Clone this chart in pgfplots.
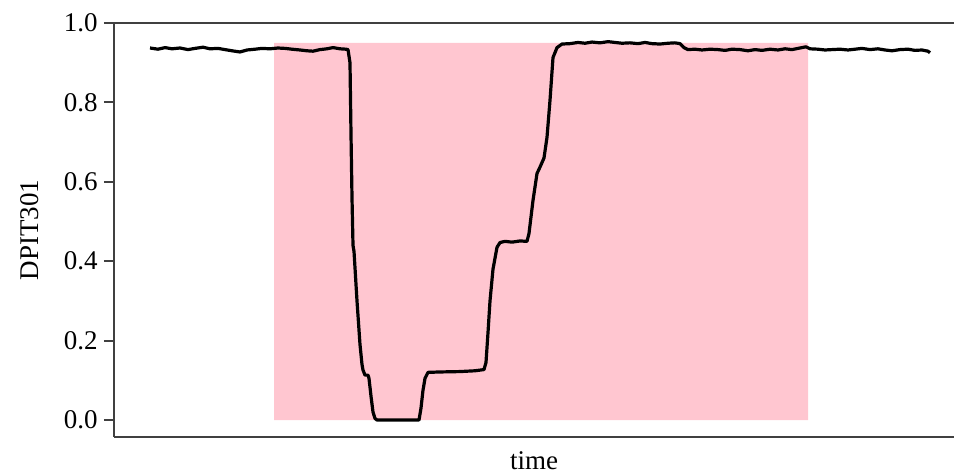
\documentclass[border=0pt]{standalone}
\usepackage{fontspec}
\setmainfont{Liberation Serif}
\usepackage{pgfplots}
\pgfplotsset{compat=1.18}
\definecolor{pinkc}{HTML}{FFC6D0}
\begin{document}
\begin{tikzpicture}
\begin{axis}[
  scale only axis,
  width=420pt, height=207pt,
  xmin=114, xmax=954,
  ymin=-0.0428, ymax=1.0,
  axis x line*=box, axis y line*=left,
  axis line style={black!75, line width=1pt},
  xtick=\empty,
  ytick={0,0.2,0.4,0.6,0.8,1.0},
  yticklabel style={/pgf/number format/fixed, /pgf/number format/precision=1, /pgf/number format/fixed zerofill, font=\fontsize{13.5}{15}\selectfont, inner sep=0pt, xshift=-3pt},
  /pgf/number format/assume math mode=true,
  tick align=outside,
  major tick length=5pt,
  tick style={black!75, line width=1pt},
  every axis y label/.style={at={(axis description cs:0,0.5)}, xshift=-42pt, rotate=90, anchor=center, font=\fontsize{13.5}{15}\selectfont},
  every axis x label/.style={at={(axis description cs:0.5,0)}, anchor=north, yshift=-7pt, inner sep=0pt, font=\fontsize{13.5}{15}\selectfont},
  ylabel={DPIT301},
  xlabel={time},
  clip=false,
]
\addplot[fill=pinkc, draw=none] coordinates {(274,0) (274,0.95) (808,0.95) (808,0)} \closedcycle;
\addplot[black, line width=1.6pt, line join=round] coordinates {
(150,0.937) (158,0.934) (165,0.938) (172,0.935) (180,0.937) (188,0.933) (195,0.936) (203,0.939) (210,0.935) (218,0.936) (225,0.933) (232,0.930) (240,0.927) (247,0.932) (255,0.934) (262,0.936) (270,0.935) (278,0.937) (285,0.936) (292,0.934) (300,0.932) (307,0.930) (313,0.929) (320,0.933) (327,0.935) (333,0.938) (340,0.935) (346,0.934) (348,0.933)
(350,0.90) (351,0.72) (352,0.56) (353,0.44) (354,0.425) (357,0.30) (360,0.19) (362,0.14) (363,0.126) (365,0.113) (368,0.113) (369,0.105) (371,0.06) (373,0.02) (375,0.004) (377,0.0) (400,0.0) (419,0.0)
(421,0.03) (423,0.075) (425,0.105) (428,0.12) (440,0.121) (460,0.122) (475,0.124) (484,0.127) (486,0.145) (488,0.22) (490,0.30) (493,0.38) (497,0.435) (500,0.447) (505,0.450) (512,0.448) (520,0.451) (527,0.450)
(529,0.47) (533,0.553) (537,0.621) (540,0.637) (544,0.66) (547,0.712) (550,0.805) (553,0.913) (557,0.938) (562,0.947)
(570,0.948) (578,0.951) (585,0.949) (592,0.952) (600,0.950) (608,0.953) (615,0.951) (622,0.949) (630,0.950) (638,0.948) (645,0.951) (652,0.948) (660,0.947) (668,0.949) (675,0.950) (680,0.948) (684,0.938) (688,0.933) (695,0.934) (702,0.932) (710,0.934) (718,0.933) (725,0.931) (732,0.934) (740,0.933) (748,0.930) (755,0.933) (762,0.931) (770,0.934) (778,0.932) (785,0.935) (792,0.933) (800,0.937) (806,0.940) (810,0.935) (818,0.934) (825,0.932) (832,0.933) (840,0.934) (848,0.932) (855,0.934) (862,0.936) (870,0.933) (878,0.935) (885,0.932) (892,0.930) (900,0.933) (908,0.934) (915,0.931) (922,0.932) (928,0.929) (930,0.925)
};
\coordinate (BL) at (rel axis cs:0,0);
\coordinate (TR) at (rel axis cs:1,1);
\end{axis}
\pgfresetboundingbox
\path[use as bounding box] ([xshift=-57pt,yshift=-19.5pt]BL) rectangle ([yshift=11.5pt]TR);
\end{tikzpicture}
\end{document}
